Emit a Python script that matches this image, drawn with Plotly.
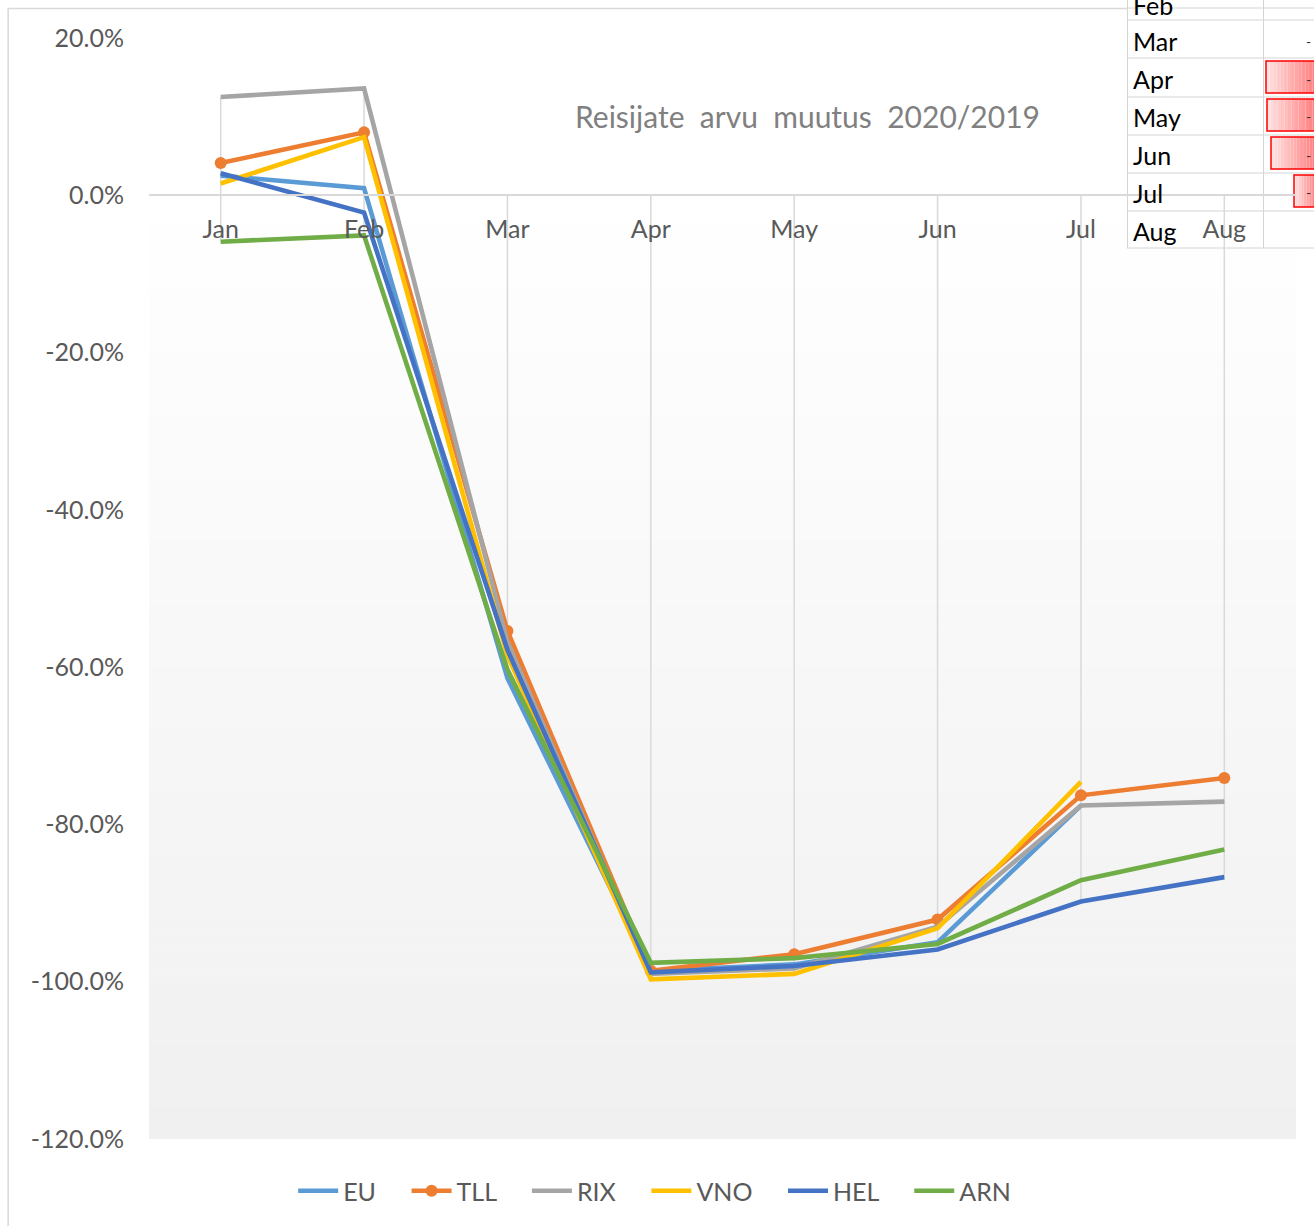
import plotly.graph_objects as go

# ---------------- data ----------------
months = ["Jan", "Feb", "Mar", "Apr", "May", "Jun", "Jul", "Aug"]
eu  = [2.5, 0.9, -61.4, -98.6, -97.8, -95.0, -77.6, None]
tll = [4.1, 8.0, -55.4, -98.6, -96.5, -92.1, -76.3, -74.1]
rix = [12.5, 13.6, -56.8, -99.0, -98.3, -93.0, -77.6, -77.1]
vno = [1.5, 7.4, -58.5, -99.7, -99.0, -93.2, -74.6, None]
hel = [2.8, -2.2, -57.8, -98.8, -98.0, -95.9, -89.8, -86.7]
arn = [-5.9, -5.1, -60.3, -97.6, -97.0, -95.2, -87.1, -83.2]
y_tick_vals = [20, 0, -20, -40, -60, -80, -100, -120]
y_tick_text = ["20.0%", "0.0%", "-20.0%", "-40.0%", "-60.0%", "-80.0%", "-100.0%", "-120.0%"]
title_text = "Reisijate  arvu  muutus  2020/2019"
sheet_rows = ["Feb", "Mar", "Apr", "May", "Jun", "Jul", "Aug"]

series = [
    ("EU", eu, "#5B9BD5", False),
    ("TLL", tll, "#ED7D31", True),
    ("RIX", rix, "#A5A5A5", False),
    ("VNO", vno, "#FFC000", False),
    ("HEL", hel, "#4472C4", False),
    ("ARN", arn, "#70AD47", False),
]

# ---------------- geometry helpers ----------------
W, H = 1314, 1226
X0, X1 = 149.3, 1296.0
Y0, Y1 = 38.0, 1139.0
def PX(px):
    return (px - X0) / (X1 - X0)
def PY(py):
    return (Y1 - py) / (Y1 - Y0)

FONT = "Lato, Carlito, Calibri, sans-serif"
NBSP = "\u00a0"

fig = go.Figure()

# drop lines (from axis to the data extremes of each category)
dx, dy = [], []
for i, m in enumerate(months):
    vals = [s[1][i] for s in series if s[1][i] is not None]
    dx += [m, m, None]
    dy += [max(0, max(vals)), min(0, min(vals)), None]
fig.add_trace(go.Scatter(x=dx, y=dy, mode="lines", showlegend=False, hoverinfo="skip",
                         line=dict(color="#D9D9D9", width=1.5)))

for name, vals, color, mk in series:
    fig.add_trace(go.Scatter(
        x=months, y=vals, name=name + NBSP * 4,
        mode="lines+markers" if mk else "lines",
        line=dict(color=color, width=4.6),
        marker=dict(size=12, color=color) if mk else None,
        connectgaps=False,
    ))

shapes = []
# gradient plot-area background: white near the zero line, light gray at the bottom
g_top, g_bot = 195.0, 1139.0
nb = 150
for k in range(nb):
    t = (k + 0.5) / nb
    c = 255 - (255 - 240) * t
    ya = g_top + (g_bot - g_top) * k / nb
    yb = g_top + (g_bot - g_top) * (k + 1) / nb + 0.5
    shapes.append(dict(type="rect", xref="paper", yref="paper", layer="below",
                       x0=0, x1=1, y0=PY(min(yb, g_bot)), y1=PY(ya),
                       line=dict(width=0), fillcolor=f"rgb({c:.1f},{c:.1f},{c:.1f})"))

# chart area border (top and left)
shapes.append(dict(type="line", xref="paper", yref="paper", layer="below",
                   x0=PX(8), x1=PX(1127), y0=PY(8.5), y1=PY(8.5),
                   line=dict(color="#D9D9D9", width=1.5)))
shapes.append(dict(type="line", xref="paper", yref="paper", layer="below",
                   x0=PX(8.5), x1=PX(8.5), y0=PY(8), y1=PY(1226),
                   line=dict(color="#D9D9D9", width=1.5)))

# spreadsheet overlay at the top right
shapes.append(dict(type="rect", xref="paper", yref="paper", layer="below",
                   x0=PX(1127), x1=PX(1320), y0=PY(-5), y1=PY(248),
                   line=dict(width=0), fillcolor="white"))
for ry in [8, 20, 58, 97, 135, 173, 211, 248]:
    shapes.append(dict(type="line", xref="paper", yref="paper", layer="below",
                       x0=PX(1127), x1=PX(1320), y0=PY(ry), y1=PY(ry),
                       line=dict(color="#D4D4D4", width=1)))
for rx in [1127.5, 1263.5]:
    shapes.append(dict(type="line", xref="paper", yref="paper", layer="below",
                       x0=PX(rx), x1=PX(rx), y0=PY(-5), y1=PY(248),
                       line=dict(color="#D4D4D4", width=1)))
# data bars (gradient red)
bars = [(1266, 61, 93), (1267, 99, 131), (1271, 137, 169), (1294, 175, 207)]
for bx, by0, by1 in bars:
    nseg = 14
    wbar = 1316 - bx
    for k in range(nseg):
        t = (k + 0.5) / nseg
        g = int(round(228 - (228 - 125) * t))
        shapes.append(dict(type="rect", xref="paper", yref="paper", layer="below",
                           x0=PX(bx + wbar * k / nseg), x1=PX(bx + wbar * (k + 1) / nseg),
                           y0=PY(by1), y1=PY(by0), line=dict(width=0),
                           fillcolor=f"rgb(255,{g},{g})"))
    shapes.append(dict(type="rect", xref="paper", yref="paper", layer="below",
                       x0=PX(bx), x1=PX(1316), y0=PY(by1), y1=PY(by0),
                       line=dict(color="#FF0000", width=1.5), fillcolor="rgba(0,0,0,0)"))

annotations = [
    dict(text=title_text, xref="paper", yref="paper", x=PX(808), y=PY(116),
         xanchor="center", yanchor="middle", showarrow=False,
         font=dict(family=FONT, size=30, color="#808080")),
]
row_y = [5, 41, 79, 117, 155, 193, 231]
for lab, ry in zip(sheet_rows, row_y):
    annotations.append(dict(text=lab, xref="paper", yref="paper", x=PX(1131), y=PY(ry),
                            xanchor="left", yanchor="middle", showarrow=False,
                            font=dict(family=FONT, size=25, color="#000000")))
for ry in [41, 79, 117, 155, 193]:
    annotations.append(dict(text="-", xref="paper", yref="paper", x=PX(1313), y=PY(ry),
                            xanchor="right", yanchor="middle", showarrow=False,
                            font=dict(family=FONT, size=14, color="#333333")))

fig.update_layout(
    width=W, height=H,
    margin=dict(l=149, r=18, t=38, b=87),
    paper_bgcolor="white",
    plot_bgcolor="rgba(0,0,0,0)",
    font=dict(family=FONT, color="#595959"),
    shapes=shapes,
    annotations=annotations,
    showlegend=True,
    legend=dict(orientation="h", x=PX(298) - 0.004, xanchor="left", y=PY(1191), yanchor="middle",
                font=dict(family=FONT, size=25, color="#595959"),
                bgcolor="rgba(0,0,0,0)", itemwidth=40, tracegroupgap=0),
    xaxis=dict(type="category", categoryorder="array", categoryarray=months,
               range=[-0.5, 7.5], anchor="free", position=120 / 140,
               showgrid=False, showline=True, linecolor="#D9D9D9", linewidth=1.5,
               ticks="", ticklabelstandoff=12,
               tickfont=dict(family=FONT, size=25, color="#595959"), zeroline=False),
    yaxis=dict(range=[-120, 20], tickvals=y_tick_vals, ticktext=y_tick_text,
               showgrid=False, zeroline=False, showline=False, ticks="",
               ticklabelstandoff=24,
               tickfont=dict(family=FONT, size=25, color="#595959")),
)

fig.write_html("out.html", config={"displayModeBar": False},
               post_script="document.body.style.margin='0';document.body.style.overflow='hidden';")
